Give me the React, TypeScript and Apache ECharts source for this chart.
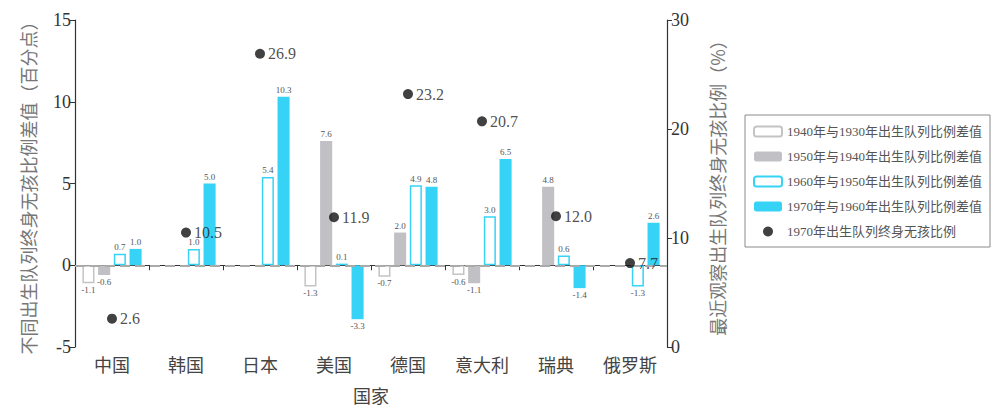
import { useEffect, useRef } from "react";
import * as echarts from "echarts";

const categories = ["中国", "韩国", "日本", "美国", "德国", "意大利", "瑞典", "俄罗斯"];
const diff1940 = [-1.1, null, null, -1.3, -0.7, -0.6, null, null];
const diff1950 = [-0.6, null, null, 7.6, 2.0, -1.1, 4.8, null];
const diff1960 = [0.7, 1.0, 5.4, 0.1, 4.9, 3.0, 0.6, -1.3];
const diff1970 = [1.0, 5.0, 10.3, -3.3, 4.8, 6.5, -1.4, 2.6];
const childless1970 = [2.6, 10.5, 26.9, 11.9, 23.2, 20.7, 12.0, 7.7];

const leftTicks = { min: -5, max: 15, interval: 5 };
const rightTicks = { min: 0, max: 30, interval: 10 };

const SERIF = "'Liberation Serif', 'DejaVu Serif', 'Noto Sans CJK SC', serif";
const CYAN = "#36d3f6";
const GREY = "#c1c1c5";

// each bar gets its label above or below depending on the sign
const withLabels = (values: (number | null)[]) =>
  values.map((v) =>
    v === null
      ? "-"
      : { value: v, label: { position: v < 0 ? "bottom" : "top" } }
  );

const barLabel = {
  show: true,
  fontSize: 9,
  fontFamily: SERIF,
  color: "#555",
  distance: 2,
  formatter: (p: any) => Number(p.value).toFixed(1),
};

const App = () => {
  const chartRef = useRef<HTMLDivElement>(null);

  useEffect(() => {
    if (!chartRef.current) return;
    const chart = echarts.init(chartRef.current, null, { renderer: "svg" });

    const option = {
      animation: false,
      backgroundColor: "#fff",
      grid: { left: 75, right: 333, top: 20, bottom: 65 },
      legend: {
        orient: "vertical",
        left: 745,
        top: 115,
        itemWidth: 28,
        itemHeight: 10,
        itemGap: 12,
        padding: [10, 8, 9, 8],
        borderColor: "#8a8a8a",
        borderWidth: 1,
        textStyle: { fontFamily: SERIF, fontSize: 13, color: "#555" },
        data: [
          "1940年与1930年出生队列比例差值",
          "1950年与1940年出生队列比例差值",
          "1960年与1950年出生队列比例差值",
          "1970年与1960年出生队列比例差值",
          "1970年出生队列终身无孩比例",
        ],
      },
      xAxis: {
        type: "category",
        data: categories,
        name: "国家",
        nameLocation: "middle",
        nameGap: 41,
        nameTextStyle: { fontSize: 18, color: "#444", fontFamily: SERIF },
        axisLine: { lineStyle: { color: "#333", width: 1.2 } },
        axisTick: { show: true, length: 5, lineStyle: { color: "#333" } },
        axisLabel: { fontSize: 18, color: "#444", margin: 10, fontFamily: SERIF },
      },
      yAxis: [
        {
          type: "value",
          ...leftTicks,
          name: "不同出生队列终身无孩比例差值（百分点）",
          nameLocation: "middle",
          nameRotate: 90,
          nameGap: 38,
          nameTextStyle: { fontSize: 18, color: "#777", fontFamily: "'Noto Sans CJK SC'" },
          splitLine: { show: false },
          axisLine: { show: true, lineStyle: { color: "#333", width: 1.2 } },
          axisTick: { show: true, length: 5, lineStyle: { color: "#333" } },
          axisLabel: { fontSize: 18, color: "#333", margin: 4, fontFamily: SERIF },
        },
        {
          type: "value",
          ...rightTicks,
          position: "right",
          name: "最近观察出生队列终身无孩比例（%）",
          nameLocation: "middle",
          nameRotate: 90,
          nameGap: 41,
          nameTextStyle: { fontSize: 18, color: "#777", fontFamily: "'Noto Sans CJK SC'" },
          splitLine: { show: false },
          axisLine: { show: true, lineStyle: { color: "#333", width: 1.2 } },
          axisTick: { show: true, length: 5, lineStyle: { color: "#333" } },
          axisLabel: { fontSize: 18, color: "#333", margin: 4, fontFamily: SERIF },
        },
      ],
      series: [
        {
          name: "1940年与1930年出生队列比例差值",
          type: "bar",
          barGap: "30%",
          barCategoryGap: "20%",
          data: withLabels(diff1940),
          itemStyle: { color: "#fff", borderColor: "#c4c4c4", borderWidth: 1.5 },
          label: barLabel,
          markLine: {
            silent: true,
            symbol: "none",
            label: { show: false },
            lineStyle: { type: [10, 5], color: "#aaaaaa", width: 2 },
            data: [{ yAxis: 0 }],
          },
        },
        {
          name: "1950年与1940年出生队列比例差值",
          type: "bar",
          data: withLabels(diff1950),
          itemStyle: { color: GREY },
          label: barLabel,
        },
        {
          name: "1960年与1950年出生队列比例差值",
          type: "bar",
          data: withLabels(diff1960),
          itemStyle: { color: "#fff", borderColor: CYAN, borderWidth: 1.5 },
          label: barLabel,
        },
        {
          name: "1970年与1960年出生队列比例差值",
          type: "bar",
          data: withLabels(diff1970),
          itemStyle: { color: CYAN },
          label: barLabel,
        },
        {
          name: "1970年出生队列终身无孩比例",
          type: "scatter",
          yAxisIndex: 1,
          data: childless1970,
          symbol: "circle",
          symbolSize: 10,
          itemStyle: { color: "#111" },
          label: {
            show: true,
            position: "right",
            distance: 3,
            fontSize: 16,
            fontFamily: SERIF,
            color: "#222",
            formatter: (p: any) => Number(p.value).toFixed(1),
          },
          z: 5,
        },
      ],
    };

    chart.setOption(option as any);
    return () => chart.dispose();
  }, []);

  return (
    <div
      ref={chartRef}
      style={{ position: "fixed", left: 0, top: 0, width: 1000, height: 412 }}
    />
  );
};

export default App;
